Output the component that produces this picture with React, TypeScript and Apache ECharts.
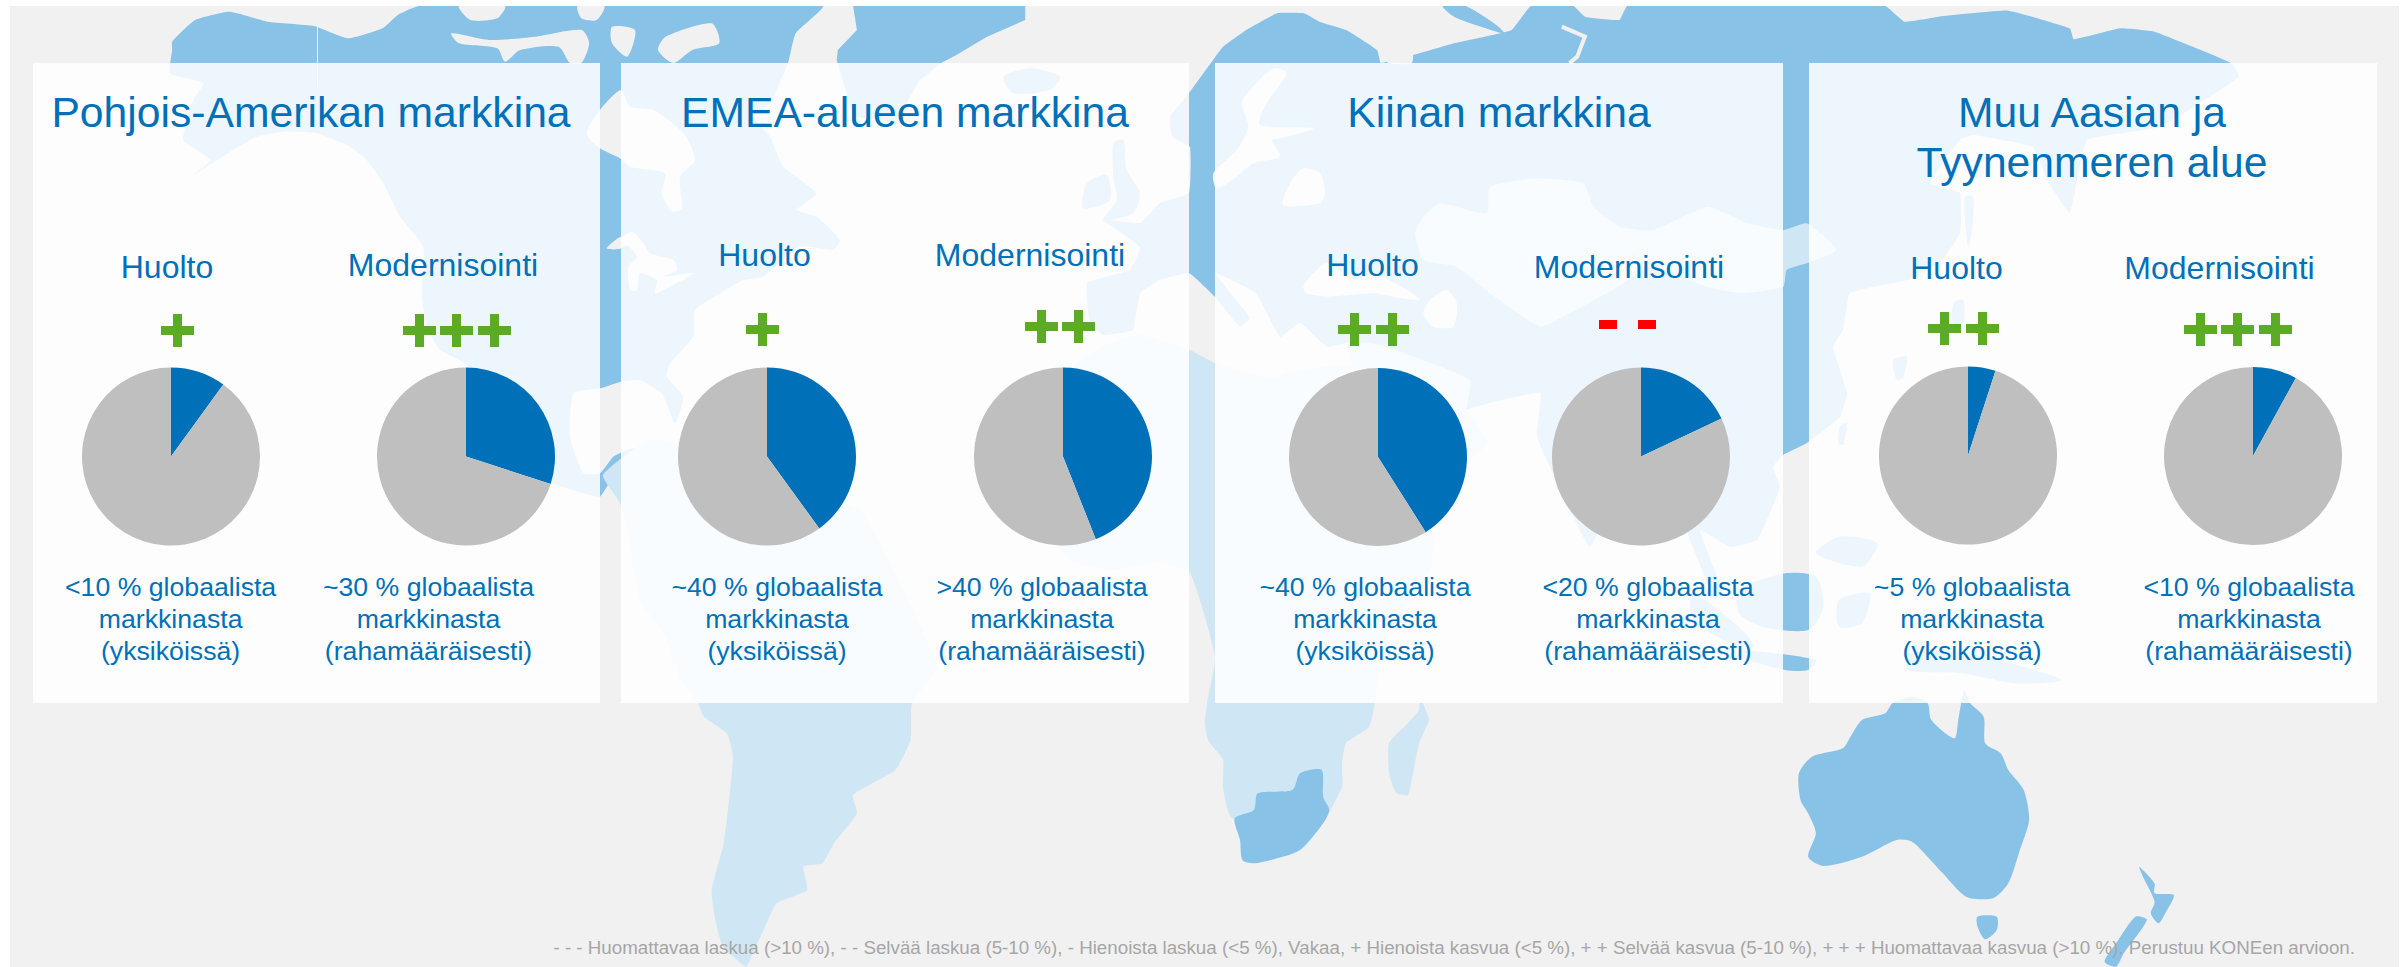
import React, { useEffect, useRef } from "react";
import * as echarts from "echarts";

// ---------- data ----------
const regionTitles = ["Pohjois-Amerikan markkina", "EMEA-alueen markkina", "Kiinan markkina", "Muu Aasian ja\nTyynenmeren alue"];
const serviceLabels = ["Huolto", "Modernisointi", "Huolto", "Modernisointi", "Huolto", "Modernisointi", "Huolto", "Modernisointi"];
const shareValues = [10, 30, 40, 44, 41, 18, 5, 8];
const trendMarks = [1, 3, 1, 2, 2, -2, 2, 3];
const shareLabels = [
  "<10 % globaalista\nmarkkinasta\n(yksiköissä)",
  "~30 % globaalista\nmarkkinasta\n(rahamääräisesti)",
  "~40 % globaalista\nmarkkinasta\n(yksiköissä)",
  ">40 % globaalista\nmarkkinasta\n(rahamääräisesti)",
  "~40 % globaalista\nmarkkinasta\n(yksiköissä)",
  "<20 % globaalista\nmarkkinasta\n(rahamääräisesti)",
  "~5 % globaalista\nmarkkinasta\n(yksiköissä)",
  "<10 % globaalista\nmarkkinasta\n(rahamääräisesti)",
];
const footnote = "- - - Huomattavaa laskua (>10 %), - - Selvää laskua (5-10 %), - Hienoista laskua (<5 %), Vakaa, + Hienoista kasvua (<5 %), + + Selvää kasvua (5-10 %), + + + Huomattavaa kasvua (>10 %). Perustuu KONEen arvioon.";

// ---------- layout ----------
const panelBoxes = [[33, 600], [621, 1189], [1215, 1783], [1809, 2377]];
const titleCenters = [311, 905, 1499, 2092];
const pieCenters = [[171, 456.5], [466, 456.5], [767, 456.5], [1063, 456.5], [1378, 457], [1641, 456.5], [1968, 455.5], [2253, 456]];
const labelCenters = [[167, 278], [443, 276], [764.5, 266], [1030, 266], [1372.5, 276], [1629, 278], [1956.5, 279], [2219.5, 279]];
const markLefts = [[161], [403, 440, 478], [746], [1025, 1062], [1338, 1376], [1599, 1638], [1928, 1966], [2184, 2221, 2259]];
const markTops = [314, 314, 313, 310, 313, 320, 312, 313];
const shareCenters = [170.6, 428.5, 777, 1042, 1365, 1648, 1972, 2249];

const BLUE = "#0070B8";
const GREY = "#BFBFBF";
const GREEN = "#5BAB25";
const RED = "#FF0000";
const LAND = "#89C2E7";
const LAND_LIGHT = "#CFE6F5";
const SEA = "#F1F1F1";

// ---------- decorative world map ----------
type P = number[][];
const F = (sx: number, sy: number, ox: number, oy: number) => (pts: P): P => pts.map(([x, y]) => [x / sx + ox, y / sy + oy]);
const f1 = F(1.307, 3, 0, 0);
const f2 = F(1.299, 3, 1200, 0);
const f3 = F(1.307, 3, 0, 480);
const f4 = F(1.299, 3, 1200, 480);
const z7 = F(3, 3, 150, 60);
const z8 = F(3, 3, 620, 60);
const z9 = F(3, 3, 1140, 60);
const z10 = F(3, 3, 1640, 60);

const northAmerica: P = [
  ...f1([[225,125],[255,60],[300,35],[350,65],[410,78],[455,115],[500,85],[520,45],[548,18],[1075,18],[1040,100],[1030,189]]),
  ...z8([[450,130],[400,170],[450,230],[490,320],[590,400],[530,450],[590,470],[660,540],[640,570],[540,560],[430,650],[370,660],[300,700],[225,750],[220,830],[150,910],[140,950],[190,1010],[165,1090],[125,1000],[60,960]]),
  ...z7([[1413,965],[1350,985],[1270,1000],[1260,1130],[1300,1240],[1350,1240],[1390,1190],[1450,1165],[1445,1240],[1385,1260],[1350,1310],[1300,1300],[1205,1270],[1130,1230],[1050,1150],[950,915],[870,870],[830,800],[815,700],[820,560],[750,470],[700,370],[650,300],[600,260],[500,220],[400,215],[320,230],[250,270],[130,345],[180,300],[100,240],[130,120],[160,70],[60,40]]),
  ...f1([[225,150]]),
];
const greenland: P = [
  ...f1([[1115,18],[1340,18],[1340,60],[1290,110],[1250,165],[1230,189]]),
  ...z8([[900,60],[870,110],[830,190],[790,180],[700,170],[650,0]]),
  ...f1([[1095,150],[1120,90]]),
];
const eurasia: P = [
  ...f2([[100,40],[60,90],[30,140],[20,170]]),
  [1189, 93], [1170, 117], [1172, 137], [1190, 147], [1189, 193], [1160, 203], [1140, 223], [1103, 220], [1140, 247], [1130, 270],
  [1087, 283], [1090, 323], [1103, 335], [1133, 330], [1140, 293], [1160, 280], [1189, 273], [1215, 297], [1240, 327], [1250, 318], [1215, 273], [1256, 293], [1280, 337], [1300, 323], [1327, 347], [1347, 343],
  [1353, 367], [1407, 460], [1430, 490], [1487, 443], [1467, 410], [1540, 393], [1537, 437], [1570, 510], [1590, 547], [1625, 480], [1680, 510], [1690, 540], [1715, 600], [1722, 590], [1700, 530], [1731, 547],
  [1757, 540], [1767, 520], [1780, 487], [1773, 467], [1783, 455], [1807, 443], [1840, 417], [1847, 393], [1833, 347], [1843, 330], [1850, 293], [1907, 280], [1940, 263], [1960, 233], [1960, 193], [1930, 183], [1960, 140], [1973, 135], [2033, 147], [2047, 180], [2070, 213], [2087, 140], [2160, 127], [2239, 77],
  ...f2([[1340,190],[1300,150],[1240,95],[1195,85],[1135,118],[1130,85],[1050,32],[960,50],[915,65],[890,18],[555,18],[545,60],[500,50],[485,18],[430,18],[405,90],[380,105],[330,130],[285,160],[235,189],[230,150],[190,90],[155,65],[135,40]]),
];
const islands: P[] = [
  z8([[1150,50],[1230,25],[1320,50],[1290,90],[1180,100]]),
  z8([[1480,250],[1510,240],[1520,330],[1560,400],[1540,460],[1450,480],[1490,420],[1480,350]]),
  z8([[1400,370],[1460,345],[1470,420],[1390,445]]),
  f2([[315,18],[345,18],[385,75],[395,100],[365,80],[330,50]]),
  z10([[940,730],[970,720],[970,790],[940,800]]),
  z10([[760,900],[800,890],[790,950],[770,960]]),
  z10([[975,410],[1000,410],[995,520],[985,560],[975,480]]),
  z10([[600,1100],[620,1090],[610,1155],[595,1150]]),
  f4([[830,170],[880,190],[860,260],[800,220]]),
  f4([[700,330],[760,280],[800,290],[810,380],[790,450],[730,440],[700,400]]),
  f4([[700,510],[800,540],[790,570],[760,570],[700,530]]),
  f4([[830,360],[870,340],[860,430],[830,440]]),
  f4([[920,520],[1000,520],[1120,600],[1060,610],[990,580],[920,570]]),
  f4([[640,340],[700,440],[720,500],[690,490],[640,420]]),
  f4([[1010,1310],[1035,1310],[1035,1350],[1020,1378],[1010,1340]]),
  f4([[1220,1160],[1240,1210],[1240,1240],[1265,1245],[1255,1295],[1245,1330],[1235,1300],[1240,1265],[1225,1190]]),
  f4([[1215,1310],[1230,1320],[1200,1420],[1190,1460],[1175,1445],[1190,1390]]),
  f4([[900,668],[890,700],[860,720],[845,770],[835,805],[795,830],[778,880],[780,960],[790,1000],[800,1060],[790,1130],[810,1158],[860,1130],[905,1080],[925,1085],[945,1130],[965,1180],[995,1250],[1030,1255],[1050,1210],[1065,1110],[1077,1020],[1070,930],[1050,870],[1040,820],[1020,790],[1018,710],[1000,668],[993,630],[985,720],[980,775],[950,720],[945,668],[925,650]]),
];
const lightLand: P[] = [
  // Africa
  [[1105,345],[1075,365],[1050,410],[1025,460],[1030,510],[1070,560],[1110,570],[1160,563],[1190,573],[1215,657],[1207,703],[1205,723],[1208,740],[1223,760],[1223,787],[1231,817],[1300,850],[1323,823],[1342,787],[1342,763],[1346,743],[1369,727],[1375,703],[1385,640],[1430,570],[1433,530],[1400,500],[1380,440],[1353,367],[1300,370],[1270,378],[1215,363],[1190,350],[1140,335]],
  // Madagascar
  [[1420,690],[1423,703],[1429,720],[1419,743],[1415,763],[1408,795],[1396,793],[1389,773],[1389,743],[1408,723],[1419,710]],
  // South America
  [[603,475],[650,440],[720,450],[780,490],[860,510],[937,667],
   ...f3([[1192,668],[1190,780],[1170,870],[1115,945],[1120,1000],[1090,1090],[1075,1150],[1050,1160],[1055,1230],[1015,1270],[1000,1340],[980,1440],[975,1460],[945,1400],[935,1320],[930,1230],[945,1100],[950,1020],[958,830],[950,760],[920,710],[912,668],[890,600],[870,470]]),
   [640,600],[630,540],[620,503]],
  // Arabia and the Middle East
  [[1353,367],[1347,343],[1380,345],[1470,380],[1467,410],[1487,443],[1430,490],[1407,460]],
  // Central Asia blob
  [...z9([[825,520],[850,470],[900,430],[1040,460],[1050,380],[1190,355],[1330,370],[1360,440],[1440,500]]),
   ...z10([[40,510],[200,440],[280,470],[320,490],[430,510],[500,490],[590,570],[500,610],[440,630],[430,680],[310,700],[200,680],[40,620]]),
   ...z9([[1400,700],[1270,770],[1200,800],[1050,700],[950,620],[850,600]])],
];
const southAfrica: P = f4([[45,1015],[70,990],[75,940],[120,930],[130,880],[158,870],[160,950],[168,990],[160,1030],[130,1110],[100,1135],[70,1150],[55,1140],[52,1080]]);
const seas: P[] = [
  [...z7([[1350,150],[1413,90]]), ...z8([[30,140],[100,150],[190,220],[225,300],[180,350],[185,445],[155,455],[125,400],[135,340],[30,320],[0,295]]), ...z7([[1350,265],[1310,220]])],
  z8([[0,540],[35,515],[70,550],[90,580],[160,600],[170,630],[130,650],[220,640],[130,690],[105,700],[110,660],[60,640],[50,690],[30,690],[25,620],[50,590],[20,555],[0,565]]),
  z7([[1370,565],[1413,530],[1413,565]]),
  z9([[400,25],[440,40],[380,130],[360,195],[520,205],[420,235],[395,240],[420,290],[340,310],[290,350],[230,385],[220,340],[290,270],[325,200],[305,130],[330,90]]),
  z9([[490,680],[520,640],[560,610],[640,660],[700,640],[800,690],[840,720],[760,710],[700,700],[560,710],[500,700]]),
  z9([[870,720],[920,690],[950,730],[940,800],[880,800],[850,760]]),
  z9([[450,370],[490,325],[540,340],[555,400],[540,430],[430,435]]),
  f2([[240,170],[255,140],[275,150],[275,189],[245,189]]),
  f1([[590,100],[640,120],[700,110],[760,90],[770,130],[760,189],[745,189],[730,140],[680,150],[660,185],[650,145],[600,130]]),
  f1([[755,18],[790,18],[780,60],[760,55]]),
  f1([[870,110],[930,70],[940,130],[905,150],[880,189],[860,150]]),
  f1([[800,80],[830,90],[820,170],[800,130]]),
  f1([[600,18],[660,18],[650,55],[615,60]]),
];
const channels: P[] = [
  f1([[1090,50],[1100,130]]),
  f2([[470,80],[500,110],[490,170],[480,189]]),
];

const textEl = (text: string, x: number, y: number, size: number, fill: string, align = "center") => ({
  type: "text",
  x,
  y,
  silent: true,
  style: { text, x: 0, y: 0, fill, font: `${size}px "Liberation Sans", Arial, sans-serif`, textAlign: align, textVerticalAlign: "middle", lineHeight: 0 },
});
const poly = (points: P, fill: string, smooth = 0.25) => ({ type: "polygon", silent: true, shape: { points, smooth }, style: { fill } });

const buildGraphics = () => {
  const els: any[] = [];
  els.push({ type: "rect", silent: true, shape: { x: 10, y: 6, width: 2389, height: 961 }, style: { fill: SEA } });
  els.push(poly(northAmerica, LAND, 0.15), poly(greenland, LAND, 0), poly(eurasia, LAND, 0.1));
  islands.forEach((p) => els.push(poly(p, LAND)));
  lightLand.forEach((p) => els.push(poly(p, LAND_LIGHT, 0.15)));
  els.push(poly(southAfrica, LAND));
  seas.forEach((p) => els.push(poly(p, SEA)));
  channels.forEach((p) => els.push({ type: "polyline", silent: true, shape: { points: p }, style: { stroke: SEA, lineWidth: 4, fill: "none" } }));
  els.push({ type: "line", silent: true, shape: { x1: 317.5, y1: 26, x2: 317.5, y2: 87 }, style: { stroke: "#E4F1FA", lineWidth: 1 } });
  // the map is cut at the top of the grey plate
  els.push({ type: "rect", silent: true, shape: { x: 0, y: 0, width: 2407, height: 6 }, style: { fill: "#fff" } });

  panelBoxes.forEach(([l, r]) =>
    els.push({ type: "rect", silent: true, shape: { x: l, y: 63, width: r - l, height: 640 }, style: { fill: "rgba(255,255,255,0.85)" } })
  );

  regionTitles.forEach((t, i) => {
    t.split("\n").forEach((line, k) => els.push(textEl(line, titleCenters[i], 112 + k * 50, 42.67, BLUE)));
  });
  serviceLabels.forEach((t, i) => els.push(textEl(t, labelCenters[i][0], labelCenters[i][1] - 11.5, 32, BLUE)));
  shareLabels.forEach((t, i) => {
    t.split("\n").forEach((line, k) => els.push(textEl(line, shareCenters[i], 586.5 + k * 32, 26.67, BLUE)));
  });
  els.push(textEl(footnote, 2355, 947.5, 18.75, "#A6A6A6", "right"));

  trendMarks.forEach((m, i) => {
    markLefts[i].forEach((x) => {
      const y = markTops[i];
      if (m > 0) {
        els.push({ type: "rect", silent: true, shape: { x, y: y + 12, width: 33, height: 9 }, style: { fill: GREEN } });
        els.push({ type: "rect", silent: true, shape: { x: x + 12, y, width: 9, height: 33 }, style: { fill: GREEN } });
      } else {
        els.push({ type: "rect", silent: true, shape: { x, y, width: 18, height: 9 }, style: { fill: RED } });
      }
    });
  });
  return els;
};

export default function App() {
  const ref = useRef<HTMLDivElement>(null);
  useEffect(() => {
    document.body.style.margin = "0";
    document.body.style.background = "#fff";
    const chart = echarts.init(ref.current!, undefined, { renderer: "svg" });
    chart.setOption({
      animation: false,
      backgroundColor: "#fff",
      graphic: { elements: buildGraphics() },
      series: shareValues.map((v, i) => ({
        type: "pie",
        z: 5,
        silent: true,
        center: pieCenters[i],
        radius: [0, 89],
        startAngle: 90,
        clockwise: true,
        label: { show: false },
        labelLine: { show: false },
        itemStyle: { borderWidth: 0 },
        data: [
          { value: v, name: serviceLabels[i], itemStyle: { color: BLUE } },
          { value: 100 - v, name: "Muu", itemStyle: { color: GREY } },
        ],
      })),
    });
    return () => chart.dispose();
  }, []);
  return <div ref={ref} style={{ width: 2407, height: 967 }} />;
}
